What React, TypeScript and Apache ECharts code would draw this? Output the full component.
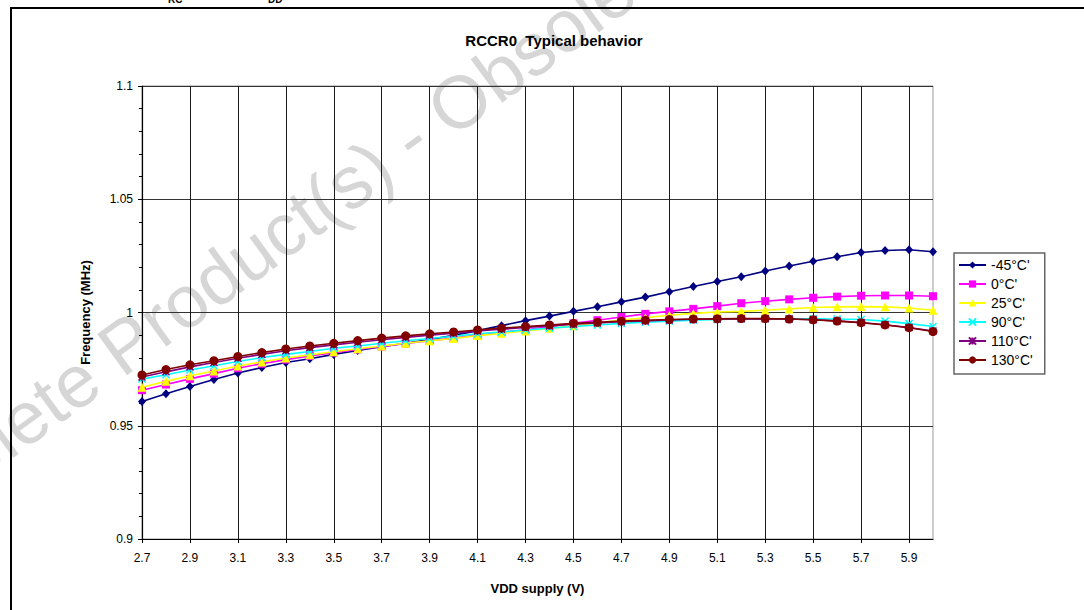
import React, { useEffect, useRef } from "react";
import * as echarts from "echarts";

const categories = [
  "2.7", "2.8", "2.9", "3.0", "3.1", "3.2", "3.3", "3.4", "3.5", "3.6",
  "3.7", "3.8", "3.9", "4.0", "4.1", "4.2", "4.3", "4.4", "4.5", "4.6",
  "4.7", "4.8", "4.9", "5.0", "5.1", "5.2", "5.3", "5.4", "5.5", "5.6",
  "5.7", "5.8", "5.9", "6.0",
];

const seriesNames = ["-45°C'", "0°C'", "25°C'", "90°C'", "110°C'", "130°C'"];

const tMinus45 = [
  0.9607, 0.9641, 0.9673, 0.9704, 0.9733, 0.9757, 0.9779, 0.9796, 0.9815, 0.9832,
  0.9849, 0.9864, 0.9881, 0.9899, 0.992, 0.9942, 0.9964, 0.9984, 1.0005, 1.0025,
  1.0047, 1.0068, 1.0092, 1.0115, 1.0137, 1.0158, 1.0183, 1.0205, 1.0226, 1.0246,
  1.0265, 1.0274, 1.0277, 1.0268,
];
const t0 = [
  0.9657, 0.9682, 0.9707, 0.973, 0.9754, 0.9774, 0.9792, 0.9808, 0.9823, 0.9837,
  0.985, 0.9863, 0.9875, 0.9887, 0.99, 0.9913, 0.9924, 0.9937, 0.9952, 0.9966,
  0.998, 0.9994, 1.0005, 1.0016, 1.0028, 1.0041, 1.005, 1.0058, 1.0065, 1.007,
  1.0074, 1.0075, 1.0075, 1.0072,
];
const t25 = [
  0.967, 0.9696, 0.9721, 0.9742, 0.9764, 0.9782, 0.9799, 0.9813, 0.9827, 0.984,
  0.9852, 0.9864, 0.9875, 0.9885, 0.9898, 0.9908, 0.9918, 0.993, 0.9942, 0.9955,
  0.9967, 0.9977, 0.9988, 0.9996, 1.0002, 1.0005, 1.001, 1.0016, 1.0022, 1.0025,
  1.0026, 1.0025, 1.002, 1.001,
];
const t90 = [
  0.9706, 0.9725, 0.9746, 0.9765, 0.9784, 0.9801, 0.9815, 0.9828, 0.9842, 0.9852,
  0.9864, 0.9875, 0.9885, 0.9895, 0.9906, 0.9914, 0.9923, 0.9931, 0.9938, 0.9945,
  0.9952, 0.9957, 0.9962, 0.9966, 0.9969, 0.9971, 0.9972, 0.9972, 0.9972, 0.9971,
  0.9969, 0.9962, 0.9951, 0.9938,
];
const t110 = [
  0.9715, 0.9738, 0.976, 0.9779, 0.9798, 0.9815, 0.9831, 0.9845, 0.9857, 0.9869,
  0.988, 0.989, 0.99, 0.9909, 0.9918, 0.9926, 0.9934, 0.9941, 0.9948, 0.9954,
  0.9959, 0.9963, 0.9967, 0.997, 0.9971, 0.9972, 0.9972, 0.9971, 0.9968, 0.9963,
  0.9956, 0.9946, 0.9934, 0.9918,
];
const t130 = [
  0.9724, 0.9748, 0.9769, 0.9787, 0.9806, 0.9823, 0.9839, 0.9852, 0.9864, 0.9876,
  0.9887, 0.9897, 0.9906, 0.9914, 0.9923, 0.9931, 0.9938, 0.9945, 0.9952, 0.9957,
  0.9962, 0.9966, 0.9969, 0.9971, 0.9972, 0.9973, 0.9973, 0.9971, 0.9968, 0.9962,
  0.9955, 0.9945, 0.9933, 0.9916,
];

const seriesData = [tMinus45, t0, t25, t90, t110, t130];
const seriesColors = ["#000080", "#FF00FF", "#FFFF00", "#00FFFF", "#800080", "#800000"];

const FONT = "'Liberation Sans', Arial, Helvetica, sans-serif";

const symbols = [
  { symbol: "diamond", size: [8, 9] },
  { symbol: "rect", size: 8 },
  { symbol: "triangle", size: 9 },
  { symbol: "path://M0,0L10,10M10,0L0,10", size: 7 },
  { symbol: "path://M0,0L10,10M10,0L0,10M5,0L5,10", size: 7 },
  { symbol: "circle", size: 9 },
];

export default function App() {
  const ref = useRef<HTMLDivElement>(null);

  useEffect(() => {
    if (!ref.current) return;
    const chart = echarts.init(ref.current, null, { renderer: "svg" });

    const series = seriesNames.map((name, i) => {
      const stroked = i === 3 || i === 4;
      return {
        name,
        type: "line",
        data: seriesData[i],
        symbol: symbols[i].symbol,
        symbolSize: symbols[i].size,
        showAllSymbol: true,
        lineStyle: { color: seriesColors[i], width: 1.6 },
        itemStyle: stroked
          ? { color: seriesColors[i], borderColor: seriesColors[i], borderWidth: 1.5 }
          : { color: seriesColors[i], borderWidth: 0 },
        emphasis: { disabled: true },
        silent: true,
        z: 2 + i,
      };
    });

    chart.setOption({
      animation: false,
      backgroundColor: "#ffffff",
      textStyle: { fontFamily: FONT },
      grid: {
        left: 142,
        right: 151,
        top: 86,
        bottom: 71,
        show: true,
        borderColor: "#999999",
        borderWidth: 1,
        backgroundColor: "transparent",
      },
      xAxis: {
        type: "category",
        data: categories,
        boundaryGap: false,
        name: "VDD supply (V)",
        nameLocation: "middle",
        nameGap: 43,
        nameTextStyle: { fontFamily: FONT, fontSize: 13, fontWeight: "bold", color: "#000" },
        axisLine: { lineStyle: { color: "#000", width: 1.2 } },
        axisTick: { show: true, interval: 1, length: 4, lineStyle: { color: "#000" } },
        axisLabel: { interval: 1, fontFamily: FONT, fontSize: 12, color: "#000", margin: 13 },
        splitLine: { show: true, interval: 1, lineStyle: { color: "#1a1a1a", width: 1 } },
      },
      yAxis: {
        type: "value",
        min: 0.9,
        max: 1.1,
        interval: 0.05,
        name: "Frequency (MHz)",
        nameLocation: "middle",
        nameGap: 50,
        nameTextStyle: { fontFamily: FONT, fontSize: 13, fontWeight: "bold", color: "#000" },
        axisLine: { show: true, lineStyle: { color: "#000", width: 1.2 } },
        axisTick: { show: true, length: 4, lineStyle: { color: "#000" } },
        minorTick: { show: true, splitNumber: 5, length: 3, lineStyle: { color: "#000" } },
        axisLabel: {
          fontFamily: FONT,
          fontSize: 12,
          color: "#000",
          margin: 9,
          formatter: (v: number) => String(Math.round(v * 100) / 100),
        },
        splitLine: { show: true, lineStyle: { color: "#333333", width: 1 } },
      },
      legend: {
        orient: "vertical",
        left: 954,
        top: 253,
        data: seriesNames,
        itemWidth: 27,
        itemHeight: 9,
        itemGap: 5,
        padding: [5, 12, 7, 4],
        borderColor: "#666666",
        borderWidth: 1.5,
        backgroundColor: "#ffffff",
        textStyle: { fontFamily: FONT, fontSize: 14, color: "#000" },
        selectedMode: false,
      },
      graphic: [
        {
          type: "text",
          x: 410,
          y: 138,
          rotation: (36 * Math.PI) / 180,
          z: -10,
          silent: true,
          style: {
            text: "Obsolete Product(s) - Obsolete Product(s)",
            fill: "#d6d6d6",
            font: `74px ${FONT}`,
            textAlign: "center",
            textVerticalAlign: "middle",
          },
        },
        {
          type: "rect",
          z: 10,
          silent: true,
          shape: { x: 11, y: 8, width: 1200, height: 800 },
          style: { fill: "none", stroke: "#000", lineWidth: 2 },
        },
        {
          type: "text",
          x: 554,
          y: 40,
          z: 10,
          style: {
            text: "RCCR0  Typical behavior",
            fill: "#000",
            font: `bold 15px ${FONT}`,
            textAlign: "center",
            textVerticalAlign: "middle",
          },
        },
        {
          type: "text",
          x: 24,
          y: -1,
          z: 10,
          style: {
            text: "Figure",
            fill: "#000",
            font: `bold 14px ${FONT}`,
            textAlign: "left",
            textVerticalAlign: "bottom",
          },
        },
        {
          type: "text",
          x: 168,
          y: 4,
          z: 10,
          style: {
            text: "RC",
            fill: "#000",
            font: `bold 10px ${FONT}`,
            textAlign: "left",
            textVerticalAlign: "bottom",
          },
        },
        {
          type: "text",
          x: 268,
          y: 4,
          z: 10,
          style: {
            text: "DD",
            fill: "#000",
            font: `bold 10px ${FONT}`,
            textAlign: "left",
            textVerticalAlign: "bottom",
          },
        },
      ],
      series,
    });

    return () => chart.dispose();
  }, []);

  return (
    <div
      ref={ref}
      style={{ position: "fixed", left: 0, top: 0, width: 1084, height: 610 }}
    />
  );
}
